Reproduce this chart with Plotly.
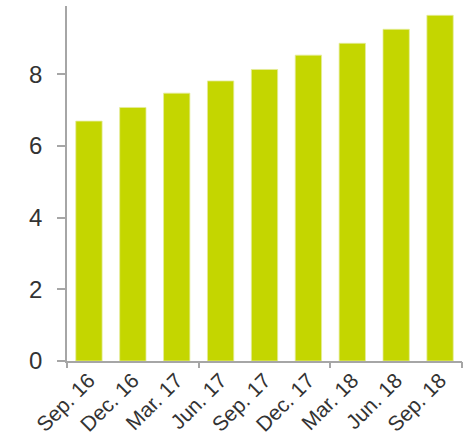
import plotly.graph_objects as go

quarters = ["Sep. 16", "Dec. 16", "Mar. 17", "Jun. 17", "Sep. 17",
            "Dec. 17", "Mar. 18", "Jun. 18", "Sep. 18"]
values = [6.69, 7.07, 7.47, 7.81, 8.13, 8.53, 8.86, 9.25, 9.64]
y_ticks = [0, 2, 4, 6, 8]
group_edges = [-0.5, 2.5, 5.5, 8.5]

bar_color = "#c4d600"
axis_gray = "#a6a6a6"
text_color = "#333333"

fig = go.Figure()
fig.add_trace(go.Bar(
    x=quarters, y=values,
    marker=dict(color=bar_color, line=dict(color="#e4ec9a", width=0.8)),
    hoverinfo="x+y",
))
# helper trace so the tick-only axis is rendered
fig.add_trace(go.Scatter(
    x=[group_edges[0], group_edges[-1]], y=[0, 0], xaxis="x2",
    mode="lines", line=dict(width=0), hoverinfo="skip", showlegend=False,
))

fig.update_layout(
    width=470, height=435,
    margin=dict(l=67, r=8, t=6, b=74),
    plot_bgcolor="white", paper_bgcolor="white",
    showlegend=False,
    bargap=0.4,
    font=dict(family="Liberation Sans, Arial, sans-serif", color=text_color),
    xaxis=dict(
        type="category", range=[-0.5, 8.5], automargin=False,
        showline=True, linecolor=axis_gray, linewidth=1.5,
        ticks="", tickangle=-45, tickfont=dict(size=21, color=text_color),
        ticklabelstandoff=-3,
        showgrid=False, zeroline=False,
    ),
    xaxis2=dict(
        overlaying="x", range=[-0.5, 8.5], side="bottom", automargin=False,
        tickmode="array", tickvals=group_edges,
        ticks="outside", ticklen=6, tickwidth=1.5, tickcolor=axis_gray,
        showticklabels=False, showline=False, showgrid=False, zeroline=False,
    ),
    yaxis=dict(
        range=[0, 9.9], tickmode="array", tickvals=y_ticks, automargin=False,
        ticks="outside", ticklen=8, tickwidth=1.5, tickcolor=axis_gray,
        showline=True, linecolor=axis_gray, linewidth=1.5,
        tickfont=dict(size=24, color=text_color),
        ticklabelstandoff=10,
        showgrid=False, zeroline=False,
    ),
)

fig.write_html("out.html")
